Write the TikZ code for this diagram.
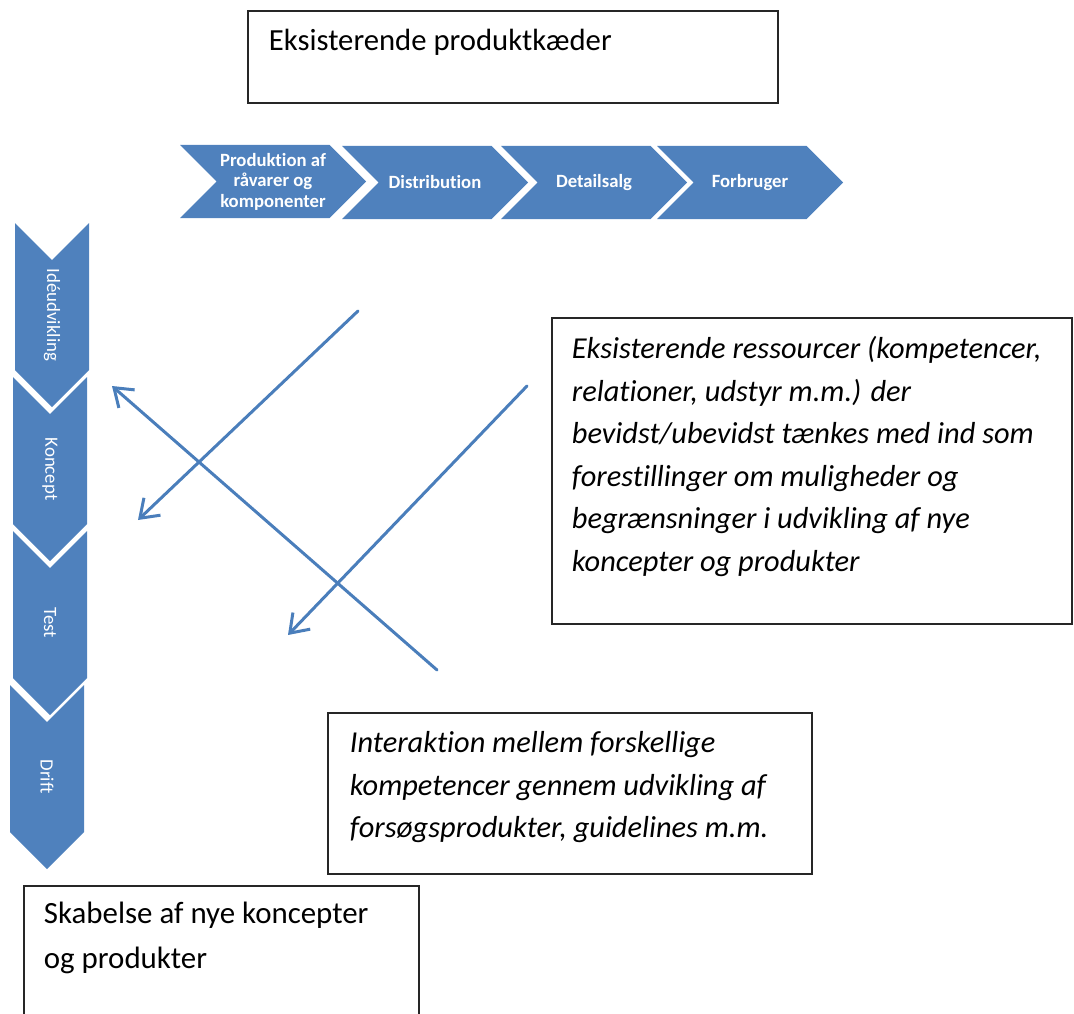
\documentclass[tikz,border=0pt]{standalone}
\usepackage{fontspec}
\setmainfont{Carlito}[Ligatures=NoCommon]
\usepackage{xcolor}
\usepackage{tikz}
\usetikzlibrary{
    positioning,
    arrows.meta,
    shapes.symbols
}
\definecolor{chainblue}{HTML}{4F81BD}
\definecolor{linkblue}{HTML}{4A7EBB}
\tikzset{
    chevron/.style={
        shape=signal,
        signal from=west,
        signal to=east,
        signal pointer angle=90,
        fill=chainblue,
        draw=none,
        inner sep=0pt,
        text=white,
        align=flush center
    },
    notebox/.style={
        rectangle, draw=black!85, line width=1.8pt,
        anchor=north west, inner ysep=0pt, align=flush left
    },
    linkarrow/.style={
        -{Straight Barb[length=17pt, width=24pt, line width=3pt]},
        line width=3pt, draw=linkblue, line cap=round
    }
}

\begin{document}
\begin{tikzpicture}[
    x=1pt, y=-1pt,
    h_chev/.style={chevron, minimum width=186pt, minimum height=73pt, font=\fontsize{18.7}{20.5}\selectfont\bfseries},
    v_chev/.style={chevron, rotate=-90, minimum width=184pt, minimum height=74pt, font=\fontsize{18.8}{20}\selectfont},
    plain_text/.style={notebox, font=\fontsize{30.9}{45}\selectfont},
    ital_text/.style={notebox, font=\fontsize{30.4}{42.5}\selectfont\itshape}
]
    \useasboundingbox (0,0) rectangle (1074,1014);

    % --- TITLE ---
    \node[plain_text, font=\fontsize{30.7}{40}\selectfont, inner xsep=21pt, text width=488pt, text height=40pt, text depth=52pt] (chain_box) at (247,10) {Eksisterende produktkæder};

    % --- PRODUCT CHAIN (horizontal) ---
    \node[h_chev] (raw_prod) at (273,181.5) {Produktion af\\råvarer og\\komponenter};
    \node[h_chev] (distrib) at (435,182.5) {Distribution};
    \node[h_chev] (retail) at (594,182.5) {Detailsalg};
    \node[h_chev] (consumer) at (750,182.5) {Forbruger};

    % --- DEVELOPMENT PATH (vertical) ---
    \node[v_chev] (ideation) at (52,315) {Idéudvikling};
    \node[v_chev] (concept) at (50,469) {Koncept};
    \node[v_chev] (testing) at (50,623) {Test};
    \node[v_chev] (operation) at (47,777) {Drift};

    % --- NOTES ---
    \node[ital_text, inner xsep=20pt, text width=480pt, text height=41pt, text depth=265pt] (res_box) at (551,317) {Eksisterende ressourcer (kompetencer,\\relationer, udstyr m.m.) der\\bevidst/ubevidst tænkes med ind som\\forestillinger om muligheder og\\begrænsninger i udvikling af nye\\koncepter og produkter};
    \node[ital_text, inner xsep=22pt, text width=440pt, text height=40pt, text depth=121pt] (inter_box) at (327,712) {Interaktion mellem forskellige\\kompetencer gennem udvikling af\\forsøgsprodukter, guidelines m.m.};
    \node[plain_text, inner xsep=20pt, text width=355pt, text height=38pt, text depth=140pt] (new_box) at (23,885) {Skabelse af nye koncepter\\og produkter};

    % --- ARROWS ---
    \coordinate (res_tail_a) at (358,311);
    \coordinate (res_tip_a) at (138,520);
    \coordinate (res_tail_b) at (527,386);
    \coordinate (res_tip_b) at (288,635);
    \coordinate (inter_tail) at (437,670);
    \coordinate (inter_tip) at (112,386);
    \draw[linkarrow] (res_tail_a) -- (res_tip_a);
    \draw[linkarrow] (res_tail_b) -- (res_tip_b);
    \draw[linkarrow] (inter_tail) -- (inter_tip);

\end{tikzpicture}
\end{document}
